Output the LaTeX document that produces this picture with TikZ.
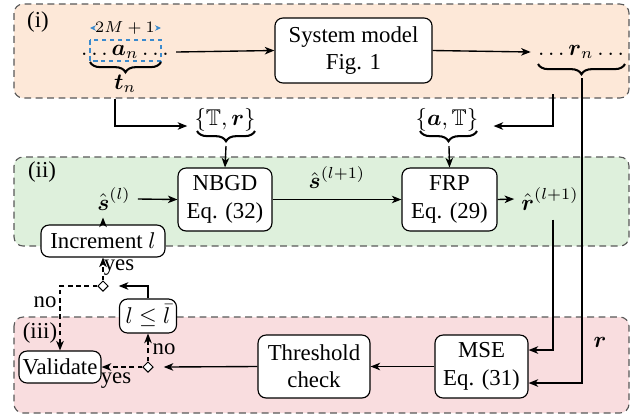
\documentclass[tikz,border=0pt]{standalone}
\usepackage{amsmath,amssymb}
\usepackage{fontspec}
\setmainfont{Liberation Serif}
\usetikzlibrary{arrows.meta,decorations.pathreplacing,calc,shapes.geometric}
\definecolor{regA}{RGB}{253,232,216}
\definecolor{regB}{RGB}{222,240,220}
\definecolor{regC}{RGB}{249,221,223}
\definecolor{blueC}{RGB}{58,138,205}
\begin{document}
\begin{tikzpicture}[x=0.4386pt,y=-0.4386pt,
  box/.style={draw,rounded corners=3.5pt,fill=white,align=center,inner sep=0pt,line width=0.5pt},
  region/.style={draw=black!65,dash pattern=on 3pt off 2pt,rounded corners=4pt,line width=0.5pt},
  arr/.style={-{Stealth[length=4.2pt,width=3.3pt,inset=1.2pt]},line width=0.6pt},
  darr/.style={arr,dash pattern=on 2pt off 1.6pt},
  barr/.style={-{Stealth[length=2.6pt,width=2.4pt,inset=0.8pt]},draw=blueC,line width=0.5pt},
  brc/.style={decorate,decoration={brace,mirror,amplitude=4.5pt},line width=0.9pt},
  dia/.style={diamond,draw,inner sep=0pt,minimum size=4.6pt,line width=0.45pt,fill=white},
  txt/.style={inner sep=3pt}]
\useasboundingbox (0,0) rectangle (641,419);
\fill[white] (0,0) rectangle (641,419);
% regions
\draw[region,fill=regA] (14,4) rectangle (629,98);
\draw[region,fill=regB] (14,157) rectangle (629,246);
\draw[region,fill=regC] (14,317) rectangle (629,413);
\node (li) at (38,22) {(i)};
\node (lii) at (42,172) {(ii)};
\node (liii) at (40,333) {(iii)};
% top row
\node[txt] (an) at (125,52) {$\ldots\boldsymbol{a}_n\ldots$};
\draw[blueC,dash pattern=on 2pt off 1.5pt,line width=0.5pt] (90,40) rectangle (161,61);
\node[font=\scriptsize,inner sep=1pt] (m2) at (125,28) {$2M+1$};
\coordinate (m2l) at (90,28);
\coordinate (m2r) at (161,28);
\draw[barr] (m2.west) -- (m2l);
\draw[barr] (m2.east) -- (m2r);
\draw[brc] (90,62) -- (161,62);
\node (tn) at (125,84) {$\boldsymbol{t}_n$};
\node[box,minimum width=68.9pt,minimum height=28.5pt] (sys) at (353.5,50.5) {System model\\Fig. 1};
\node[txt] (rn) at (581,52) {$\ldots\boldsymbol{r}_n\ldots$};
\draw[brc] (538,64) -- (625,64);
\coordinate (rnb) at (582,78);
\draw[arr] (an.east) -- (sys.west);
\draw[arr] (sys.east) -- (rn.west);
% between rows
\node[txt] (Tr) at (225,120) {$\{\mathbb{T},\boldsymbol{r}\}$};
\draw[brc] (197,131) -- (255,131);
\coordinate (Trb) at (226,146);
\coordinate (c0) at (115,99);
\draw[arr] (c0) |- ($(Tr.west)+(0,6)$);
\node[txt] (aT) at (447,120) {$\{\boldsymbol{a},\mathbb{T}\}$};
\draw[brc] (420,131) -- (477,131);
\coordinate (aTb) at (449,146);
\coordinate (c1) at (553,94);
\draw[arr] (c1) |- ($(aT.east)+(8,6)$);
% middle row
\node[box,minimum width=41.2pt,minimum height=27.6pt] (nbgd) at (225,199.5) {NBGD\\Eq. (32)};
\node[box,minimum width=41.7pt,minimum height=27.6pt] (frp) at (449.5,199.5) {FRP\\Eq. (29)};
\draw[arr] (Trb) -- (nbgd.north);
\draw[arr] (aTb) -- (frp.north);
\node[txt] (sl) at (114,199) {$\hat{\boldsymbol{s}}^{(l)}$};
\node[box,minimum width=54.4pt,minimum height=14pt] (inc) at (103,241) {Increment $l$};
\draw[arr] (sl.east) -- (nbgd.west);
\draw[arr] (inc.north) -- (inc.north |- sl.south);
\draw[arr] (nbgd.east) -- node[above=1pt] (sl1) {$\hat{\boldsymbol{s}}^{(l+1)}$} (frp.west);
\node[txt] (rh) at (550,199) {$\hat{\boldsymbol{r}}^{(l+1)}$};
\draw[arr] (frp.east) -- (rh.west);
% bottom row
\node[box,minimum width=40.8pt,minimum height=27.6pt] (mse) at (481.5,366.5) {MSE\\Eq. (31)};
\node[box,minimum width=49.1pt,minimum height=27.6pt] (thr) at (314,366.5) {Threshold\\check};
\node[box,minimum width=25pt,minimum height=14.9pt] (lb) at (148,316) {$l\leq\bar{l}$};
\node[box,minimum width=36pt,minimum height=14pt] (val) at (60,367) {Validate};
\node[dia] (d1) at (103,286) {};
\node[dia] (d2) at (148,367) {};
\node (rr) at (600,342) {$\boldsymbol{r}$};
\draw[arr] ($(rh.south)+(3,2)$) |- ($(mse.east)+(0,-16.5)$);
\draw[arr] (rnb) |- ($(mse.east)+(0,16.5)$);
\draw[arr] (mse.west) -- (thr.east);
\draw[arr] (thr.west) -- ($(d2.east)+(10,0)$);
\draw[darr] (d2.west) -- (val.east);
\node (y2) at (116,381) {yes};
\draw[darr] (d2.north) -- (lb.south);
\node (n2) at (164,349) {no};
\draw[arr] (lb.north) |- ($(d1.east)+(10,0)$);
\draw[darr] (d1.north) -- (inc.south);
\node (y1) at (119,268) {yes};
\draw[darr] (d1.west) -| (val.north);
\node (n1) at (45,302) {no};
\end{tikzpicture}
\end{document}
